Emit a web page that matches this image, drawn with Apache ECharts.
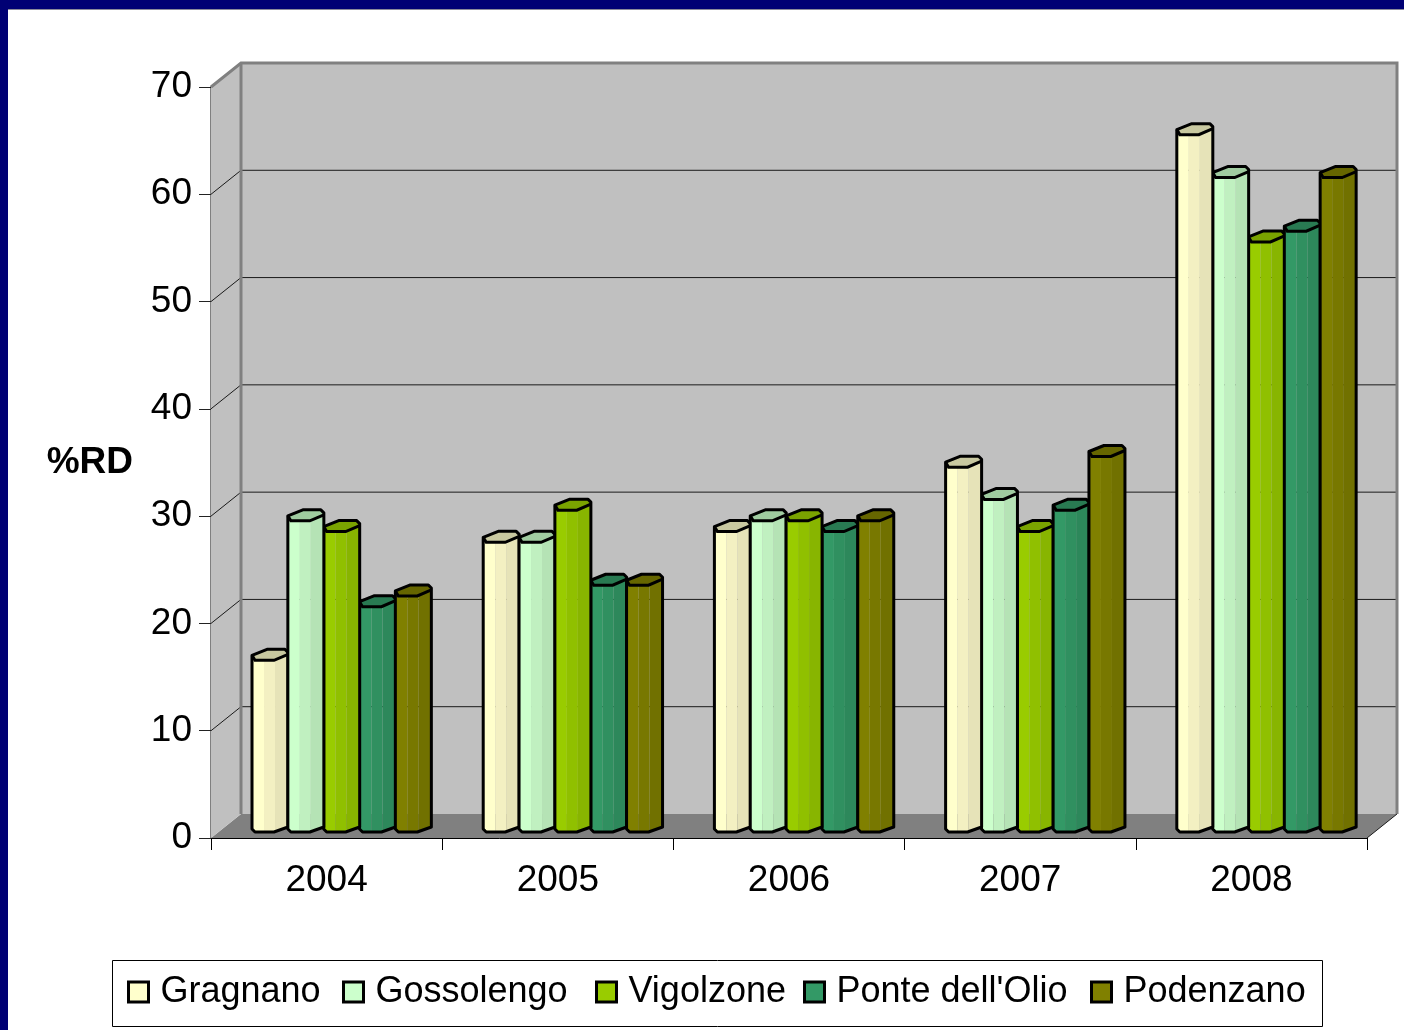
<!DOCTYPE html>
<html><head><meta charset="utf-8">
<script src="https://cdn.jsdelivr.net/npm/echarts@6/dist/echarts.min.js"></script>
<style>
html,body{margin:0;padding:0;width:1404px;height:1030px;overflow:hidden;background:#000074;}
#paper{position:absolute;left:8px;top:9px;right:0;bottom:0;background:#fff;border-top:1px solid #8a8a9a;}
#c{position:absolute;left:0;top:0;width:1404px;height:1030px;}
</style></head><body>
<div id="paper"></div><div id="c"></div>
<script>
const categories = ['2004','2005','2006','2007','2008'];
const seriesNames = ['Gragnano','Gossolengo','Vigolzone',"Ponte dell'Olio",'Podenzano'];
const gragnano   = [16,27,28,34,65];
const gossolengo = [29,27,29,31,61];
const vigolzone  = [28,30,29,28,55];
const ponte      = [21,23,28,30,56];
const podenzano  = [22,23,29,35,61];
const seriesValues = [gragnano,gossolengo,vigolzone,ponte,podenzano];
const faceColors = ['#FFFFCC','#CCFFCC','#99CC00','#339966','#808000'];
const midColors  = ['#F3F0C2','#C0F0C0','#90C000','#309060','#787800'];
const darkColors = ['#E6E3B8','#B5E3B5','#88B500','#2D885B','#717100'];
const topColors  = ['#C8C8A0','#A0CCA0','#7AA300','#297A52','#666600'];
const yTicks = [0,10,20,30,40,50,60,70];
const legendLefts = [127,342,595,803,1090];

const FONT = '"Liberation Sans", Arial, sans-serif';
const DX = 30, DY = -24;

function poly(points, style, z2){
  return {type:'polygon', shape:{points}, style, z2, silent:true};
}

function renderWalls(params, api){
  const idx = api.value(0);
  const lo = api.coord([0,0]), size = api.size([1,0])[0];
  const x0 = lo[0]-size/2, x1 = x0+size*categories.length;
  const y0 = lo[1], yTop = api.coord([0,70])[1];
  const children = [];
  if(idx===0){
    children.push(poly([[x0,y0],[x0+DX,y0+DY],[x1+DX,y0+DY],[x1,y0]],{fill:'#808080'},1));
    children.push(poly([[x0,yTop],[x0+DX,yTop+DY],[x0+DX,y0+DY],[x0,y0]],{fill:'#C0C0C0'},1));
    children.push({type:'rect',shape:{x:x0+DX,y:yTop+DY,width:x1-x0,height:y0-yTop},style:{fill:'#C0C0C0'},z2:1,silent:true});
  }
  const v = api.value(1);
  const y = api.coord([0,v])[1];
  if(v>0 && v<70){
    children.push({type:'line',shape:{x1:x0+DX,y1:y+DY,x2:x1+DX,y2:y+DY},style:{stroke:'#1a1a1a',lineWidth:1},z2:3,silent:true});
    children.push({type:'line',shape:{x1:x0,y1:y,x2:x0+DX,y2:y+DY},style:{stroke:'#1a1a1a',lineWidth:1},z2:3,silent:true});
  }
  if(idx===0){
    const g = {stroke:'#808080',lineWidth:3,fill:null};
    children.push({type:'polyline',shape:{points:[[x0,yTop],[x0+DX,yTop+DY],[x1+DX,yTop+DY],[x1+DX,y0+DY]]},style:g,z2:4,silent:true});
    children.push({type:'line',shape:{x1:x0+DX,y1:yTop+DY,x2:x0+DX,y2:y0+DY},style:{stroke:'#808080',lineWidth:3},z2:4,silent:true});
    children.push({type:'line',shape:{x1:x1,y1:y0,x2:x1+DX,y2:y0+DY},style:{stroke:'#1a1a1a',lineWidth:1},z2:4,silent:true});
  }
  return {type:'group',children};
}

function makeBar(sIdx){
  return function(params, api){
    const cat = api.value(0), val = api.value(1);
    const centre = api.coord([cat,0]);
    const pitch = api.size([1,0])[0]*0.155;
    const x = centre[0]-2.5*pitch+15+sIdx*pitch;
    const base = centre[1]-6;
    const top = api.coord([cat,val])[1]-6;
    const z = 10+val;
    const W = 36;
    const strip = (a,b,fill)=>poly([[x+a,top],[x+b,top],[x+b,base],[x+a,base]],{fill},z);
    const capTop = [[x,top-5],[x+15,top-11],[x+33,top-11],[x+W,top-8],[x+W,top-6],[x+22,top],[x+3,top]];
    const outline = [
      [x,top-5],[x+15,top-11],[x+33,top-11],[x+W,top-8],
      [x+W,base-5],[x+22,base],[x+3,base],[x,base-3]
    ];
    return {type:'group',children:[
      poly([[x,top],[x+12,top],[x+12,base],[x+3,base],[x,base-3]],{fill:faceColors[sIdx]},z),
      strip(12,23,midColors[sIdx]),
      poly([[x+23,top],[x+W,top-6],[x+W,base-5],[x+23,base]],{fill:darkColors[sIdx]},z),
      poly(capTop,{fill:topColors[sIdx]},z),
      {type:'polyline',shape:{points:[[x,top-5],[x+3,top],[x+22,top],[x+W,top-6]]},style:{stroke:'#000',lineWidth:3,fill:null},z2:z,silent:true},
      poly(outline,{fill:null,stroke:'#000',lineWidth:3,lineJoin:'round'},z)
    ]};
  };
}

const series = [{
  type:'custom', name:'walls', z:0, silent:true, clip:false,
  renderItem:renderWalls,
  data:yTicks.map((v,i)=>[i,v]),
  encode:{x:0,y:1}, legendHoverLink:false
}];
seriesNames.forEach((n,s)=>{
  series.push({
    type:'custom', name:n, z:3, clip:false,
    itemStyle:{color:faceColors[s]},
    renderItem:makeBar(s),
    data:seriesValues[s].map((v,i)=>[i,v]),
    encode:{x:0,y:1}
  });
});

const chart = echarts.init(document.getElementById('c'),null,{renderer:'canvas'});
chart.setOption({
  animation:false,
  backgroundColor:'transparent',
  textStyle:{fontFamily:FONT},
  grid:{left:211,top:87,width:1156,height:751,containLabel:false},
  graphic:[{type:'rect',silent:true,z:1,
    shape:{x:112.5,y:960.5,width:1210,height:66},
    style:{fill:'#fff',stroke:'#000',lineWidth:1}}],
  xAxis:{type:'category',data:categories,
    axisLine:{show:true,lineStyle:{color:'#000',width:1}},
    axisTick:{show:true,length:12,inside:false,alignWithLabel:false,lineStyle:{color:'#000',width:1}},
    axisLabel:{color:'#000',fontSize:37,margin:24,fontFamily:FONT},
    splitLine:{show:false}},
  yAxis:{type:'value',min:0,max:70,interval:10,
    name:'%RD',nameLocation:'middle',nameGap:78,nameRotate:0,
    nameTextStyle:{color:'#000',fontSize:37,fontWeight:'bold',fontFamily:FONT,align:'right',verticalAlign:'middle',padding:[0,0,10,0]},
    axisLine:{show:true,lineStyle:{color:'#808080',width:2}},
    axisTick:{show:true,length:12,lineStyle:{color:'#222',width:1}},
    axisLabel:{color:'#000',fontSize:37,margin:19,fontFamily:FONT,padding:[0,0,4,0]},
    splitLine:{show:false}},
  legend:seriesNames.map((n,s)=>({
    left:legendLefts[s],top:974,orient:'horizontal',z:5,
    padding:0,itemWidth:20,itemHeight:20,icon:'rect',
    textStyle:{color:'#000',fontSize:36,fontFamily:FONT,padding:[0,0,0,7]},
    data:[{name:n,icon:'rect',itemStyle:{color:faceColors[s],borderColor:'#000',borderWidth:3}}]
  })),
  series
});
</script>
</body></html>
